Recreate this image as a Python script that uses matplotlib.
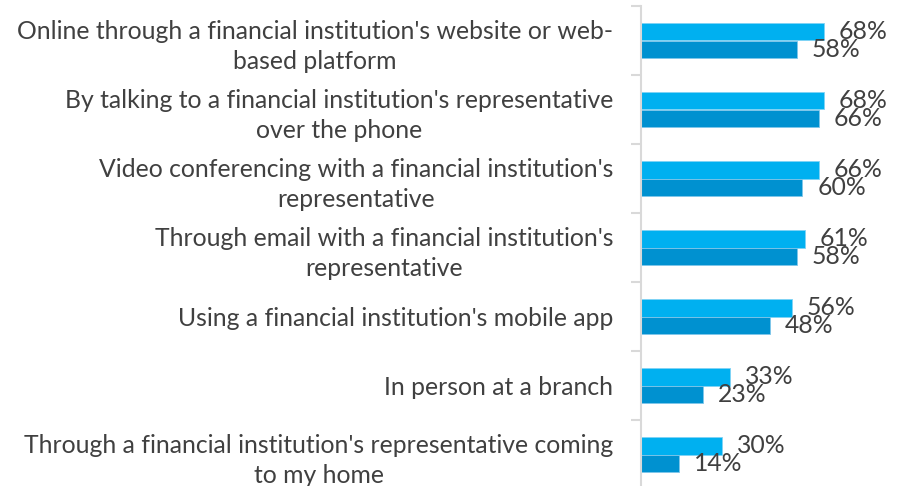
import matplotlib
matplotlib.use("Agg")
import matplotlib.pyplot as plt
import numpy as np

categories = [
    "Online through a financial institution's website or web-\nbased platform",
    "By talking to a financial institution's representative\nover the phone",
    "Video conferencing with a financial institution's\nrepresentative",
    "Through email with a financial institution's\nrepresentative",
    "Using a financial institution's mobile app",
    "In person at a branch",
    "Through a financial institution's representative coming\nto my home",
]
series_a = [68, 68, 66, 61, 56, 33, 30]   # light blue (upper bar)
series_b = [58, 66, 60, 58, 48, 23, 14]   # dark blue (lower bar)
value_labels_a = [f"{v}%" for v in series_a]
value_labels_b = [f"{v}%" for v in series_b]

LIGHT = "#00B0F0"
DARK = "#0091D0"
TEXT = "#404040"
FONT = "Lato"

W, H, DPI = 900, 486, 100
fig = plt.figure(figsize=(W / DPI, H / DPI), dpi=DPI)
ax_left = 641 / W
ax_top_px, ax_bot_px = 6, 489
ax = fig.add_axes([ax_left, (H - ax_bot_px) / H, 1 - ax_left, (ax_bot_px - ax_top_px) / H])

n = len(categories)
y = np.arange(n)
bh = 0.254
ax.barh(y - bh / 2, series_a, height=bh, color=LIGHT, edgecolor="#7FD3F5", linewidth=0.6)
ax.barh(y + bh / 2, series_b, height=bh, color=DARK, edgecolor="#7FC6EA", linewidth=0.6)

ax.set_xlim(0, (W - 641) / 2.69)
ax.set_ylim(n - 0.5, -0.5)

for spine in ["top", "right", "bottom"]:
    ax.spines[spine].set_visible(False)
ax.spines["left"].set_color("#D9D9D9")
ax.spines["left"].set_linewidth(1.5)
ax.set_xticks([])

ax.set_yticks(np.arange(-0.5, n + 0.5, 1.0))
ax.set_yticklabels([])
ax.tick_params(axis="y", which="major", direction="out", length=7, width=1.5, color="#D9D9D9")
ax.set_yticks(y, minor=True)
ax.set_yticklabels(categories, minor=True)
ax.tick_params(axis="y", which="minor", length=0, pad=20, labelsize=17.8, labelcolor=TEXT)
for lab in ax.get_yticklabels(minor=True):
    lab.set_fontfamily(FONT)
    lab.set_multialignment("center")
    lab.set_linespacing(1.42)

off_pts = 15 * 72 / DPI
for i in range(n):
    ax.annotate(value_labels_a[i], xy=(series_a[i], y[i] - bh / 2), xytext=(off_pts, 0),
                textcoords="offset points", va="center", ha="left",
                fontsize=17.8, color=TEXT, fontfamily=FONT, annotation_clip=False)
    ax.annotate(value_labels_b[i], xy=(series_b[i], y[i] + bh / 2), xytext=(off_pts, 0),
                textcoords="offset points", va="center", ha="left",
                fontsize=17.8, color=TEXT, fontfamily=FONT, annotation_clip=False)

fig.savefig("out.png", dpi=DPI)
